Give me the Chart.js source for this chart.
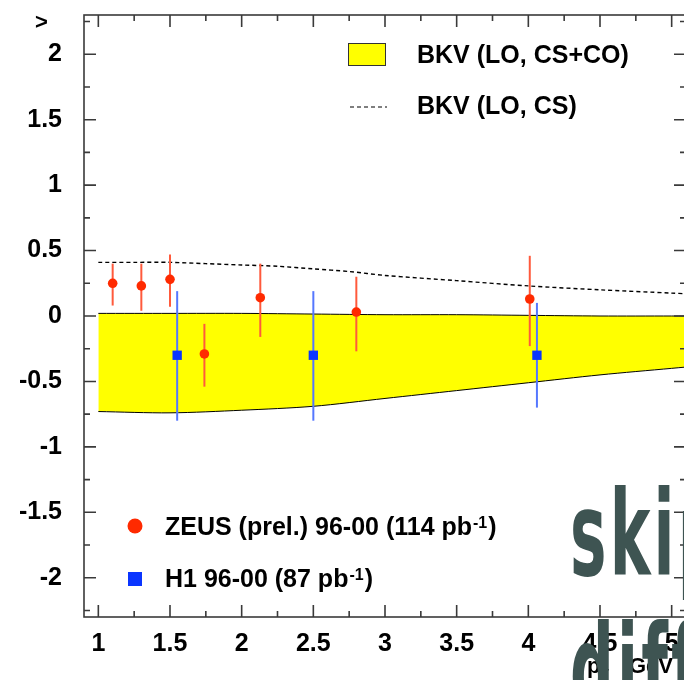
<!DOCTYPE html>
<html>
<head>
<meta charset="utf-8">
<script src="https://cdn.jsdelivr.net/npm/chart.js@4.4.1/dist/chart.umd.min.js"></script>
<style>
  html, body { margin: 0; padding: 0; background: #fff; overflow: hidden; }
  #wrap { width: 700px; height: 680px; }
</style>
</head>
<body>
<div id="wrap"><canvas id="plot" width="700" height="680"></canvas></div>
<script>
// ZEUS (prel.) 96-00 points with their vertical error bars
const zeusX  = [1.10, 1.30, 1.50, 1.74, 2.13, 2.80, 4.01];
const zeusY  = [0.25, 0.23, 0.28, -0.29, 0.14, 0.03, 0.13];
const zeusLo = [0.08, 0.04, 0.07, -0.54, -0.16, -0.27, -0.23];
const zeusHi = [0.40, 0.40, 0.47, -0.06, 0.40, 0.30, 0.46];

// H1 96-00 points
const h1X  = [1.55, 2.50, 4.06];
const h1Y  = [-0.30, -0.30, -0.30];
const h1Lo = [-0.80, -0.80, -0.70];
const h1Hi = [0.19, 0.19, 0.10];

// BKV (LO, CS+CO) band edges
const bandX     = [1.0, 1.5, 2.0, 2.5, 3.0, 3.5, 4.0, 4.5, 5.0, 5.1];
const bandUpper = [0.02, 0.02, 0.02, 0.015, 0.01, 0.01, 0.005, 0.0, 0.0, 0.0];
const bandLower = [-0.73, -0.74, -0.72, -0.69, -0.63, -0.57, -0.51, -0.45, -0.40, -0.39];

// BKV (LO, CS) curve
const csX = [1.0, 1.25, 1.5, 1.75, 2.0, 2.25, 2.5, 2.75, 3.0, 3.5, 4.0, 4.5, 5.0, 5.1];
const csY = [0.41, 0.41, 0.41, 0.40, 0.39, 0.38, 0.36, 0.34, 0.31, 0.27, 0.23, 0.20, 0.175, 0.17];

const xTicks = [1, 1.5, 2, 2.5, 3, 3.5, 4, 4.5, 5];
const yTicks = [2, 1.5, 1, 0.5, 0, -0.5, -1, -1.5, -2];

const FONT = '"Liberation Sans", Arial, Helvetica, sans-serif';
const pts = (xs, ys) => xs.map((x, i) => ({ x: x, y: ys[i] }));

// vertical error bars, drawn just before their markers
const errorBars = {
    id: 'errorBars',
    beforeDatasetDraw(chart, args) {
        const sets = { zeus: [zeusX, zeusLo, zeusHi, '#ff5a3c'], h1: [h1X, h1Lo, h1Hi, '#5577ff'] };
        const s = sets[chart.data.datasets[args.index].label];
        if (!s) return;
        const { ctx, scales: { x, y } } = chart;
        ctx.save();
        ctx.strokeStyle = s[3];
        ctx.lineWidth = 2;
        s[0].forEach((v, i) => {
            const px = x.getPixelForValue(v);
            ctx.beginPath();
            ctx.moveTo(px, y.getPixelForValue(s[1][i]));
            ctx.lineTo(px, y.getPixelForValue(s[2][i]));
            ctx.stroke();
        });
        ctx.restore();
    }
};

// box round the plot with inward ticks on all four sides
const frame = {
    id: 'frame',
    afterDatasetsDraw(chart) {
        const { ctx, chartArea: { left, right, top, bottom }, scales: { x, y } } = chart;
        ctx.save();
        ctx.strokeStyle = '#3a3a3a';
        ctx.lineWidth = 1.6;
        ctx.strokeRect(left, top, right - left, bottom - top);
        ctx.beginPath();
        for (let k = 4; k <= 20; k++) {
            const v = k / 4, len = k % 2 === 0 ? 12 : 6;
            const px = x.getPixelForValue(v);
            ctx.moveTo(px, bottom); ctx.lineTo(px, bottom - len);
            ctx.moveTo(px, top); ctx.lineTo(px, top + len);
        }
        for (let k = -9; k <= 9; k++) {
            const v = k / 4, len = k % 2 === 0 ? 12 : 6;
            const py = y.getPixelForValue(v);
            ctx.moveTo(left, py); ctx.lineTo(left + len, py);
            ctx.moveTo(right, py); ctx.lineTo(right - len, py);
        }
        ctx.stroke();
        ctx.restore();
    }
};

// text with a raised "-1"
function supText(ctx, x, y, main, sup, tail) {
    ctx.font = 'bold 25px ' + FONT;
    ctx.fillText(main, x, y);
    x += ctx.measureText(main).width + 1;
    ctx.font = 'bold 16px ' + FONT;
    ctx.fillText(sup, x, y - 7);
    x += ctx.measureText(sup).width + 1;
    ctx.font = 'bold 25px ' + FONT;
    ctx.fillText(tail, x, y);
}

const legendBox = {
    id: 'legendBox',
    afterDraw(chart) {
        const ctx = chart.ctx;
        ctx.save();
        ctx.fillStyle = '#ffff00';
        ctx.fillRect(348, 43, 38, 23);
        ctx.strokeStyle = '#333';
        ctx.lineWidth = 1;
        ctx.strokeRect(348.5, 43.5, 37, 22);

        ctx.strokeStyle = '#000';
        ctx.lineWidth = 1.2;
        ctx.setLineDash([4, 3]);
        ctx.beginPath();
        ctx.moveTo(350, 107); ctx.lineTo(387, 107);
        ctx.stroke();
        ctx.setLineDash([]);

        ctx.fillStyle = '#ff2a00';
        ctx.beginPath();
        ctx.arc(135, 526, 7.5, 0, Math.PI * 2);
        ctx.fill();
        ctx.fillStyle = '#0a35ff';
        ctx.fillRect(128, 572, 14, 14);

        ctx.fillStyle = '#000';
        ctx.textBaseline = 'alphabetic';
        ctx.font = 'bold 25px ' + FONT;
        ctx.fillText('BKV (LO, CS+CO)', 417, 63);
        ctx.fillText('BKV (LO, CS)', 417, 114);
        supText(ctx, 165, 535, 'ZEUS (prel.) 96-00 (114 pb', '-1', ')');
        supText(ctx, 165, 587, 'H1 96-00 (87 pb', '-1', ')');

        // axis titles
        ctx.font = 'bold 22px ' + FONT;
        ctx.fillText('>', 35, 29);
        ctx.fillText('p', 587, 673);
        ctx.font = 'bold 13px ' + FONT;
        ctx.fillText('T', 601, 678);
        ctx.font = 'bold 22px ' + FONT;
        ctx.fillText('GeV', 629, 673);
        ctx.restore();
    }
};

// site mark over the lower right corner
const siteMark = {
    id: 'siteMark',
    afterDraw(chart) {
        const ctx = chart.ctx;
        ctx.save();
        ctx.fillStyle = '#3e5452';
        ctx.font = 'bold 118px "DejaVu Sans", sans-serif';
        ctx.letterSpacing = '6px';
        ctx.translate(570, 575);
        ctx.scale(0.52, 1);
        ctx.fillText('skip', 0, 0);
        ctx.fillText('diff', 0, 134);
        ctx.restore();
    }
};

const tickFont = { family: FONT, size: 25, weight: 'bold' };
const noPad = s => { s.paddingTop = 0; s.paddingBottom = 0; s.paddingLeft = 0; s.paddingRight = 0; };

new Chart(document.getElementById('plot'), {
    type: 'scatter',
    data: {
        datasets: [
            { label: 'band-upper', type: 'line', data: pts(bandX, bandUpper), order: 4,
              borderColor: '#000', borderWidth: 1, pointRadius: 0, tension: 0.3,
              fill: '+1', backgroundColor: '#ffff00' },
            { label: 'band-lower', type: 'line', data: pts(bandX, bandLower), order: 3,
              borderColor: '#000', borderWidth: 1, pointRadius: 0, tension: 0.3, fill: false },
            { label: 'cs', type: 'line', data: pts(csX, csY), order: 2,
              borderColor: '#000', borderWidth: 1.4, borderDash: [4, 3], pointRadius: 0,
              tension: 0.3, fill: false },
            { label: 'h1', data: pts(h1X, h1Y), order: 1,
              pointStyle: 'rect', pointRadius: 6.6, backgroundColor: '#0a35ff', borderWidth: 0 },
            { label: 'zeus', data: pts(zeusX, zeusY), order: 0,
              pointStyle: 'circle', pointRadius: 4.8, backgroundColor: '#ff2a00', borderWidth: 0 }
        ]
    },
    options: {
        responsive: false,
        animation: false,
        layout: { padding: { top: 15, right: 14, left: 0, bottom: 0 } },
        plugins: { legend: { display: false }, tooltip: { enabled: false } },
        scales: {
            x: {
                type: 'linear', min: 0.9, max: 5.1,
                grid: { display: false, drawTicks: false }, border: { display: false },
                afterBuildTicks: s => { s.ticks = xTicks.map(v => ({ value: v })); },
                afterFit: s => { s.height = 63; noPad(s); },
                ticks: { font: tickFont, color: '#000', padding: 12, maxRotation: 0,
                         autoSkip: false, callback: v => String(v) }
            },
            y: {
                type: 'linear', min: -2.3, max: 2.3,
                grid: { display: false, drawTicks: false }, border: { display: false },
                afterBuildTicks: s => { s.ticks = yTicks.map(v => ({ value: v })); },
                afterFit: s => { s.width = 84; noPad(s); },
                ticks: { font: tickFont, color: '#000', padding: 22, autoSkip: false,
                         callback: v => String(v) }
            }
        }
    },
    plugins: [errorBars, frame, legendBox, siteMark]
});
</script>
</body>
</html>
